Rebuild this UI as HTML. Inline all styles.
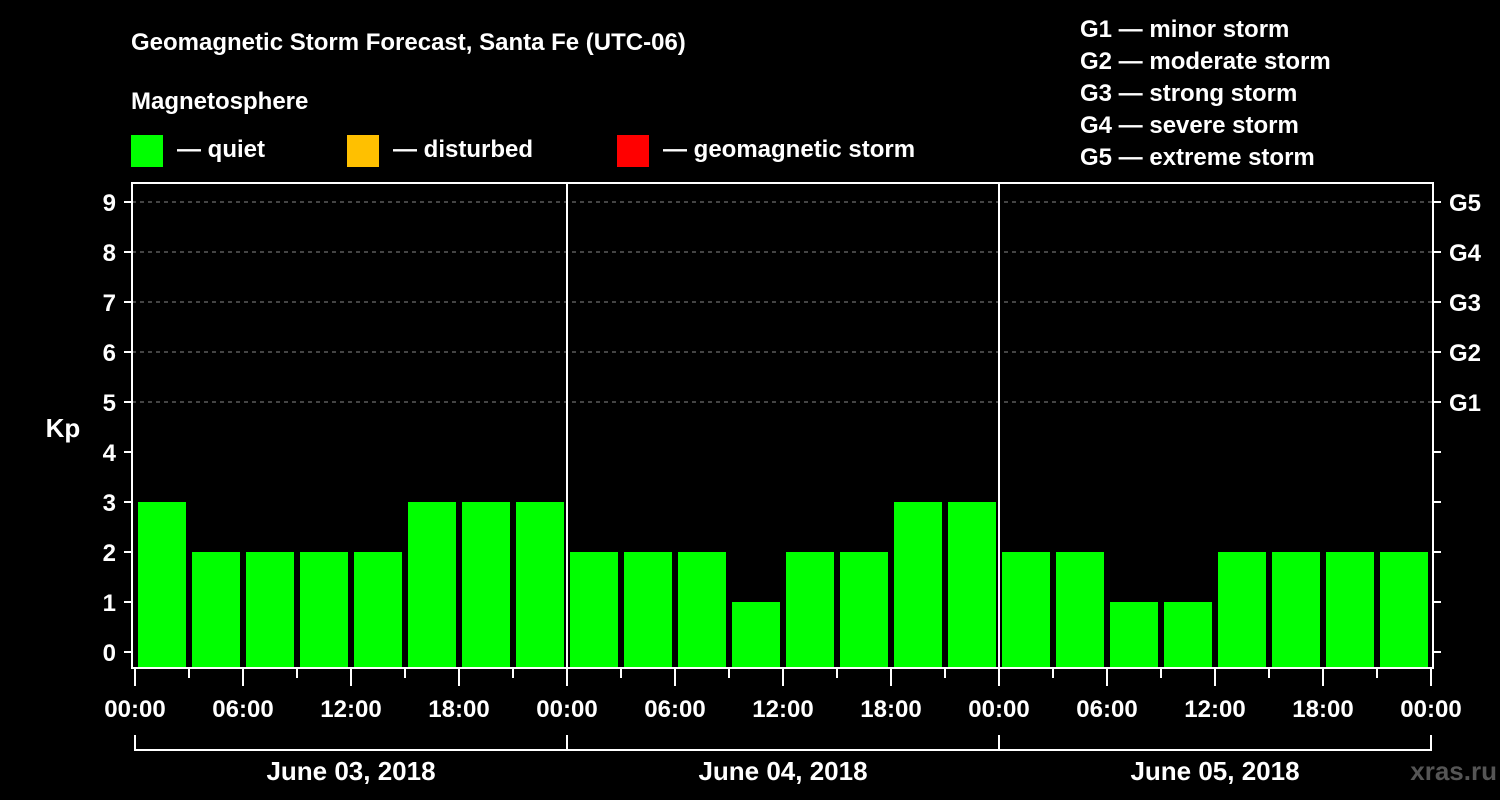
<!DOCTYPE html>
<html><head><meta charset="utf-8"><style>
body{margin:0;background:#000;width:1500px;height:800px;overflow:hidden}
svg{display:block}
text{font-family:"Liberation Sans",sans-serif;font-weight:bold;fill:#fff}
</style></head><body>
<svg id="c" width="1500" height="800">
<text x="131" y="50" font-size="24">Geomagnetic Storm Forecast, Santa Fe (UTC-06)</text>
<text x="131" y="109" font-size="24">Magnetosphere</text>
<rect x="131" y="135" width="32" height="32" fill="#00ff00"/>
<text x="177" y="157" font-size="24">— quiet</text>
<rect x="347" y="135" width="32" height="32" fill="#ffc000"/>
<text x="393" y="157" font-size="24">— disturbed</text>
<rect x="617" y="135" width="32" height="32" fill="#ff0000"/>
<text x="663" y="157" font-size="24">— geomagnetic storm</text>
<g font-size="24">
<text x="1080" y="37">G1 — minor storm</text>
<text x="1080" y="69">G2 — moderate storm</text>
<text x="1080" y="101">G3 — strong storm</text>
<text x="1080" y="133">G4 — severe storm</text>
<text x="1080" y="165">G5 — extreme storm</text>
</g>
<g id="grid"></g><g id="bars"></g><g id="axes"></g>
<text x="63" y="437" font-size="26" text-anchor="middle">Kp</text>
<text x="1497" y="780" font-size="26" text-anchor="end" style="fill:#555">xras.ru</text>
</svg>
<script>
const days=["June 03, 2018","June 04, 2018","June 05, 2018"];
const kpValues=[3,2,2,2,2,3,3,3, 2,2,2,1,2,2,3,3, 2,2,1,1,2,2,2,2];
const yTicks=[0,1,2,3,4,5,6,7,8,9];
const gLabels=["G1","G2","G3","G4","G5"];
const xLabels=["00:00","06:00","12:00","18:00"];
const NS="http://www.w3.org/2000/svg";
const X0=135,DAYW=432,SLOT=54;
const y=v=>652-50*v;
const x=h=>X0+h*(DAYW/24);
function mk(p,t,a){const e=document.createElementNS(NS,t);for(const k in a)e.setAttribute(k,a[k]);document.getElementById(p).appendChild(e);return e;}
const col=v=>v>=5?"#ff0000":v>=4?"#ffc000":"#00ff00";
yTicks.forEach(v=>{
 if(v>=5){const g=mk("grid","line",{x1:132,x2:1433,y1:y(v),y2:y(v),stroke:"#888","stroke-dasharray":"4,4"});
 
 }
 const t=mk("axes","line",{x1:124,x2:132,y1:y(v),y2:y(v),stroke:"#fff","stroke-width":2});
 const t2=mk("axes","line",{x1:1433,x2:1441,y1:y(v),y2:y(v),stroke:"#fff","stroke-width":2});
 const l=mk("axes","text",{x:116,y:y(v)+9,"font-size":24,"text-anchor":"end"});l.textContent=v;
 
 
});
gLabels.forEach((g,i)=>{const l=mk("axes","text",{x:1449,y:y(5+i)+9,"font-size":24});l.textContent=g;
 
 });
kpValues.forEach((v,i)=>{const b=mk("bars","rect",{x:x(i*3)+3,y:y(v),width:SLOT-6,height:668-y(v),fill:col(v)});
 
 });
mk("axes","rect",{x:132,y:183,width:1301,height:485,fill:"none",stroke:"#fff","stroke-width":2});
days.forEach((d,di)=>{
 if(di>0)mk("axes","line",{x1:x(di*24),x2:x(di*24),y1:183,y2:668,stroke:"#fff","stroke-width":2});
 const l=mk("axes","text",{x:x(di*24+12),y:780,"font-size":26,"text-anchor":"middle"});l.textContent=d;
 
 
 xLabels.forEach((s,k)=>{const t=mk("axes","text",{x:x(di*24+k*6),y:717,"font-size":24,"text-anchor":"middle"});t.textContent=s;
  
  });
});
const e=mk("axes","text",{x:x(72),y:717,"font-size":24,"text-anchor":"middle"});e.textContent="00:00";


for(let h=0;h<=72;h+=3){mk("axes","line",{x1:x(h),x2:x(h),y1:668,y2:h%6==0?686:678,stroke:"#fff","stroke-width":2});}
mk("axes","polyline",{points:`${x(0)},735 ${x(0)},750 ${x(72)},750 ${x(72)},735`,fill:"none",stroke:"#fff","stroke-width":2});
[24,48].forEach(h=>mk("axes","line",{x1:x(h),x2:x(h),y1:735,y2:750,stroke:"#fff","stroke-width":2}));
</script>
</body></html>
